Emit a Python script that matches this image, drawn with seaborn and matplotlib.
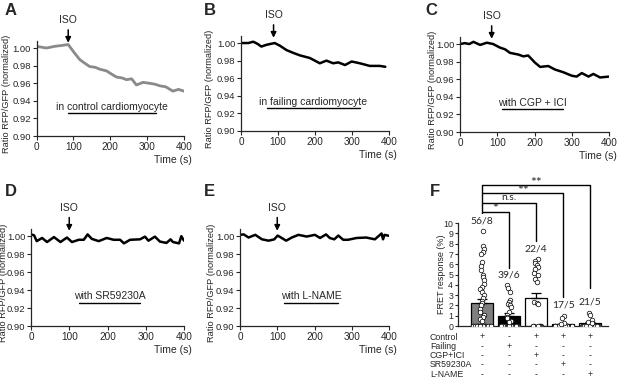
import numpy as np
import pandas as pd
import matplotlib
matplotlib.use("Agg")
import matplotlib.pyplot as plt
import matplotlib.transforms as mtransforms
import seaborn as sns

# ---- traces (time in s, normalized RFP/GFP ratio) ----
t_a = [0, 27, 50, 70, 86, 100, 117, 130, 144, 160, 171, 190, 205, 217, 232,
       244, 258, 271, 289, 305, 320, 335, 350, 370, 385, 400]
r_a = [1.002, 1.000, 1.002, 1.003, 1.004, 0.996, 0.987, 0.983, 0.979, 0.978,
       0.976, 0.974, 0.970, 0.967, 0.966, 0.964, 0.965, 0.958, 0.961, 0.960,
       0.959, 0.957, 0.956, 0.951, 0.953, 0.951]

t_b = [0, 20, 33, 45, 55, 69, 80, 91, 105, 123, 140, 159, 186, 213, 231, 249,
       263, 281, 299, 321, 348, 375, 390]
r_b = [1.000, 1.000, 1.0015, 0.999, 0.996, 0.998, 0.999, 1.000, 0.997, 0.992,
       0.989, 0.986, 0.983, 0.977, 0.980, 0.977, 0.978, 0.975, 0.979, 0.977,
       0.974, 0.974, 0.973]

t_c = [0, 13, 25, 36, 54, 72, 89, 107, 121, 134, 157, 170, 183, 201, 215, 237,
       255, 277, 300, 313, 327, 345, 358, 376, 400]
r_c = [1.000, 1.001, 1.000, 1.0025, 0.999, 1.0015, 1.000, 0.996, 0.994, 0.990,
       0.988, 0.986, 0.987, 0.979, 0.974, 0.975, 0.971, 0.968, 0.964, 0.963,
       0.967, 0.963, 0.966, 0.962, 0.963]

t_d = [0, 8, 15, 29, 42, 60, 77, 94, 107, 125, 138, 148, 159, 177, 198, 216,
       233, 243, 259, 285, 298, 307, 324, 337, 354, 365, 371, 387, 393, 400]
r_d = [1.002, 1.001, 0.9945, 0.998, 0.9935, 0.999, 0.9935, 0.9985, 0.9935,
       0.996, 0.996, 1.002, 0.997, 0.9945, 0.998, 0.996, 0.996, 0.992, 0.996,
       0.9965, 0.9995, 0.995, 0.9995, 0.994, 0.9925, 0.9965, 0.9935, 0.992,
       1.000, 0.995]

t_e = [0, 10, 23, 41, 59, 77, 92, 101, 112, 124, 139, 157, 179, 201, 215, 231,
       241, 253, 264, 277, 290, 313, 339, 362, 380, 384, 388, 400]
r_e = [1.0015, 1.002, 0.9985, 1.0015, 0.9965, 0.995, 0.9965, 1.0007, 0.998,
       0.995, 0.9985, 1.0015, 0.9996, 1.0015, 0.998, 1.002, 0.998, 0.9965,
       1.0007, 0.996, 0.996, 0.998, 0.9985, 0.9965, 1.003, 0.9965, 1.0015,
       1.0004]

iso_time = [86, 88, 85, 100, 100]
conditions = ["in control cardiomyocyte", "in failing cardiomyocyte",
              "with CGP + ICI", "with SR59230A", "with L-NAME"]
cond_start = [85, 69, 112, 126, 117]
cond_end = [324, 321, 277, 285, 264]

# ---- panel F ----
groups = ["Control", "Failing", "CGP+ICI", "SR59230A", "L-NAME"]
means = [2.2, 0.97, 2.69, 0.15, 0.3]
sems = [0.4, 0.26, 0.55, 0.08, 0.1]
n_cells = [56, 39, 22, 17, 21]
n_animals = [8, 6, 4, 5, 5]
vals_control = [9.2, 7.8, 7.5, 7.2, 7.0, 6.2, 5.8, 5.4, 5.0, 4.8, 4.5, 4.1, 3.8,
                3.6, 3.3, 3.0, 2.75, 2.4, 2.2, 2.0, 1.65, 1.4, 1.1, 0.9, 0.7, 0.5]
vals_failing = [4.0, 3.7, 3.3, 2.5, 2.3, 2.1, 2.0, 1.8, 1.4, 1.1, 0.9, 0.75,
                0.5, 0.35]
vals_cgp = [6.5, 6.3, 6.1, 5.9, 5.7, 5.5, 5.2, 5.0, 4.6, 4.3, 2.3, 2.2, 2.1]
vals_sr = [1.0, 0.8, 0.3, 0.2]
vals_lname = [1.3, 1.1, 0.6, 0.4, 0.3]
bar_colors = ["#7f7f7f", "#000000", "#ffffff", "#ffffff", "#ffffff"]
comparisons = [(4, "**"), (3, "**"), (2, "n.s."), (1, "*")]
treatments = {
    "Control":  ["+", "-", "+", "+", "+"],
    "Failing":  ["-", "+", "-", "-", "-"],
    "CGP+ICI":  ["-", "-", "+", "-", "-"],
    "SR59230A": ["-", "-", "-", "+", "-"],
    "L-NAME":   ["-", "-", "-", "-", "+"],
}

sns.set_style("ticks")
plt.rcParams["font.family"] = ["Liberation Sans", "DejaVu Sans"]
plt.rcParams["axes.linewidth"] = 0.9

W, H = 617, 378
fig = plt.figure(figsize=(W / 100, H / 100), dpi=100)


def px_axes(left, right, bottom, top):
    return fig.add_axes([left / W, 1 - bottom / H, (right - left) / W, (bottom - top) / H])


def trace_panel(ax, t, r, i, color, lw, label_x):
    sns.lineplot(x=t, y=r, ax=ax, color=color, linewidth=lw)
    ax.set_xlim(0, 400)
    ax.set_ylim(0.90, 1.008)
    ax.set_xticks([0, 100, 200, 300, 400])
    ax.set_yticks(np.arange(0.90, 1.001, 0.02))
    ax.yaxis.set_major_formatter("{x:.2f}")
    ax.tick_params(labelsize=6.8, length=3, width=0.8, pad=1)
    ax.tick_params(axis="x", labelsize=7.2)
    ax.set_ylabel("Ratio RFP/GFP (normalized)", fontsize=6.7)
    ax.yaxis.set_label_coords(label_x, 0.44)
    ax.set_xlabel("Time (s)", fontsize=7.5, ha="right")
    ax.xaxis.set_label_coords(1.05, -0.2)
    sns.despine(ax=ax)
    ax.annotate("ISO", xy=(iso_time[i], 1.006), xytext=(iso_time[i], 1.026),
                ha="center", va="bottom", fontsize=7.5, annotation_clip=False,
                arrowprops=dict(arrowstyle="-|>", color="black", lw=1.1,
                                shrinkA=1, shrinkB=0, mutation_scale=8))
    mid = (cond_start[i] + cond_end[i]) / 2
    ax.text(mid, 0.933, conditions[i], ha="center", va="center", fontsize=7.5)
    ax.plot([cond_start[i], cond_end[i]], [0.926, 0.926], color="black", lw=1)


axA = px_axes(36.5, 184, 136, 41)
axB = px_axes(241, 389, 131, 36)
axC = px_axes(460, 609, 132, 37)
axD = px_axes(31, 184, 326, 229)
axE = px_axes(240, 389, 326, 229)
trace_panel(axA, t_a, r_a, 0, "#8a8a8a", 2.0, -0.17)
trace_panel(axB, t_b, r_b, 1, "black", 1.8, -0.185)
trace_panel(axC, t_c, r_c, 2, "black", 1.8, -0.155)
trace_panel(axD, t_d, r_d, 3, "black", 1.8, -0.15)
trace_panel(axE, t_e, r_e, 4, "black", 1.8, -0.16)

# ---- F: bar + dots ----
axF = px_axes(458, 608, 326, 182)
sns.barplot(x=groups, y=means, hue=groups, palette=bar_colors, order=groups,
            edgecolor="black", linewidth=0.9, width=0.82, legend=False, ax=axF)
axF.errorbar(x=range(len(groups)), y=means, yerr=[np.zeros(len(sems)), sems],
             fmt="none", ecolor="black", elinewidth=0.9, capsize=3.5, capthick=0.9)

all_vals = [vals_control, vals_failing, vals_cgp, vals_sr, vals_lname]
dots = pd.DataFrame({"group": [g for g, v in zip(groups, all_vals) for _ in v],
                     "value": [x for v in all_vals for x in v]})
zeros = pd.DataFrame({"group": [g for g, v, n in zip(groups, all_vals, n_cells)
                                for _ in range(n - len(v))]})
zeros["value"] = 0.0
np.random.seed(3)
sns.stripplot(data=zeros, x="group", y="value", order=groups, jitter=0.36,
              size=3.3, color="white", edgecolor="black", linewidth=0.5,
              ax=axF, zorder=4)
sns.stripplot(data=dots, x="group", y="value", order=groups, jitter=0.09,
              size=3.3, color="white", edgecolor="black", linewidth=0.5,
              ax=axF, zorder=4)

axF.set_ylim(0, 14)
axF.set_xlim(-0.89, 4.66)
axF.set_yticks(range(0, 11))
axF.set_xticks([])
axF.set_xlabel("")
axF.set_ylabel("FRET response (%)", fontsize=6.5)
axF.yaxis.set_label_coords(-0.08, 5 / 14)
axF.tick_params(labelsize=6.3, length=2.5, width=0.8, pad=1)
sns.despine(ax=axF)
axF.spines["left"].set_bounds(0, 10)

for i, (v, n, a) in enumerate(zip(all_vals, n_cells, n_animals)):
    axF.text(i, max(v) + 1.0, f"{n}/{a}", ha="center", va="center",
             fontsize=7.5, family=["Lato", "DejaVu Sans"])

levels = [13.7, 12.9, 12.0, 11.1]
ends = [3.7, 2.85, 8.3, 5.6]
axF.plot([0, 0], [levels[0], levels[-1] - 0.1], color="black", lw=1)
for (j, lab), lv, e in zip(comparisons, levels, ends):
    axF.plot([0, j, j], [lv, lv, e], color="black", lw=1, clip_on=False)
    if lab == "n.s.":
        axF.text(j / 2, lv + 0.02, lab, ha="center", va="bottom", fontsize=7.5,
                 family=["Lato", "DejaVu Sans"])
    else:
        axF.text(j / 2, lv - 0.35, lab, ha="center", va="bottom", fontsize=10,
                 family=["Lato", "DejaVu Sans"])

trans = mtransforms.blended_transform_factory(axF.transData, fig.transFigure)
for k, (name, signs) in enumerate(treatments.items()):
    y = 1 - (337 + k * 9.3) / H
    fig.text(430 / W, y, name, fontsize=6.3, va="center", ha="left")
    for i, s in enumerate(signs):
        axF.text(i, y, s, transform=trans, fontsize=6.3, ha="center", va="center")

for lab, x, y in [("A", 5, 3), ("B", 204, 3), ("C", 425, 3),
                  ("D", 5, 184), ("E", 204, 184), ("F", 430, 184)]:
    fig.text(x / W, 1 - y / H, lab, fontsize=12, fontweight="bold", va="top")

fig.savefig("out.png", dpi=100)
